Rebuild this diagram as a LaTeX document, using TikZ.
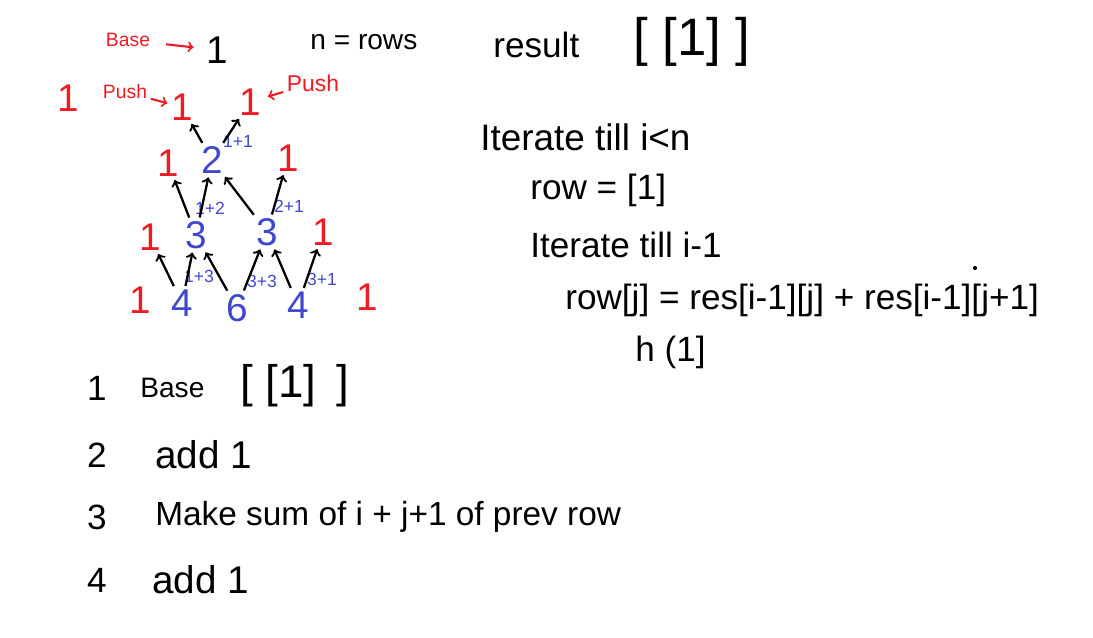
\documentclass[tikz,border=0pt]{standalone}
\usepackage{fontspec}
\setmainfont{Liberation Sans}
\definecolor{inkred}{RGB}{237,28,36}
\definecolor{inkblue}{RGB}{63,72,204}
\begin{document}
\begin{tikzpicture}[
            x=0.02cm,
            y=-0.02cm,
            num/.style={font=\fontsize{22}{26}\selectfont,inner sep=1pt},
            sumnote/.style={font=\fontsize{10}{12}\selectfont,text=inkblue,inner sep=0pt},
            txt/.style={font=\fontsize{20}{24}\selectfont,anchor=west,inner sep=0pt},
            redtxt/.style={font=\fontsize{11}{13}\selectfont,text=inkred,inner sep=1pt},
            arr/.style={->,line width=1.3pt,shorten <=1pt,shorten >=1pt},
            redarr/.style={->,line width=1.2pt,draw=inkred}
        ]
            \useasboundingbox (0,0) rectangle (1093,637);

            % top line
            \node[redtxt] (base) at (128,40) {Base};
            \node[num] (top) at (217,50) {1};
            \draw[redarr,shorten <=8pt,shorten >=6pt] (base) -- (top);
            \node[txt,font=\fontsize{16}{19}\selectfont] (nrows) at (310,42) {n = rows};
            \node[txt] (result) at (493,45) {result};
            \node[txt,font=\fontsize{30}{34}\selectfont] (resval) at (633,42) {[ [1] ]};

            % pascal triangle
            \node[num,text=inkred] (lone) at (68,98) {1};
            \node[redtxt] (push1) at (125,92) {Push};
            \node[redtxt,font=\fontsize{13}{15}\selectfont] (push2) at (313,83) {Push};

            \foreach \n/\x/\y/\c/\t in {p11/182/107/inkred/1,p12/250/102/inkred/1,
                p21/168/163/inkred/1,p22/212/160/inkblue/2,p23/288/158/inkred/1,
                p31/150/237/inkred/1,p32/196/235/inkblue/3,p33/267/232/inkblue/3,p34/323/232/inkred/1,
                p41/140/300/inkred/1,p42/182/303/inkblue/4,p43/237/308/inkblue/6,p44/298/305/inkblue/4,p45/367/297/inkred/1} {
                \node[num,text=\c] (\n) at (\x,\y) {\t};
            }

            \foreach \n/\x/\y/\t in {s22/238/141/1+1,s32/210/208/1+2,s33/289/206/2+1,
                s42/199/276/1+3,s43/262/281/3+3,s44/322/279/3+1} {
                \node[sumnote] (\n) at (\x,\y) {\t};
            }

            \draw[redarr,shorten <=1pt,shorten >=1pt] (push1) -- (p11);
            \draw[redarr,shorten <=1pt,shorten >=3pt] (push2) -- (p12);

            \foreach \a/\b in {p22/p11,p22/p12,p32/p21,p32/p22,p33/p22,p33/p23,
                p42/p31,p42/p32,p43/p32,p43/p33,p44/p33,p44/p34} {
                \draw[arr] (\a) -- (\b);
            }

            % algorithm
            \node[txt,font=\fontsize{21}{25}\selectfont] (loop1) at (480,137) {Iterate till i<n};
            \node[txt] (rowinit) at (530,190) {row = [1]};
            \node[txt] (loop2) at (530,245) {Iterate till i-1};
            \node[txt] (update) at (565,300) {row[j] = res[i-1][j] + res[i-1][j+1]};
            \node[txt] (pushend) at (635,352) {h (1]};
            \fill (975,268) circle (1.2pt);

            % steps
            \foreach \i/\y in {1/388,2/455,3/517,4/580} {
                \node[txt,anchor=center] (n\i) at (97,\y) {\i};
            }
            \node[txt,font=\fontsize{16}{19}\selectfont] (step1) at (140,388) {Base};
            \node[txt,font=\fontsize{26}{30}\selectfont] (step1b) at (240,386) {[ [1]\, ]};
            \node[txt,font=\fontsize{22}{26}\selectfont] (step2) at (155,455) {add 1};
            \node[txt,font=\fontsize{19}{23}\selectfont] (step3) at (155,517) {Make sum of i + j+1 of prev row};
            \node[txt,font=\fontsize{22}{26}\selectfont] (step4) at (152,580) {add 1};
        \end{tikzpicture}
\end{document}
